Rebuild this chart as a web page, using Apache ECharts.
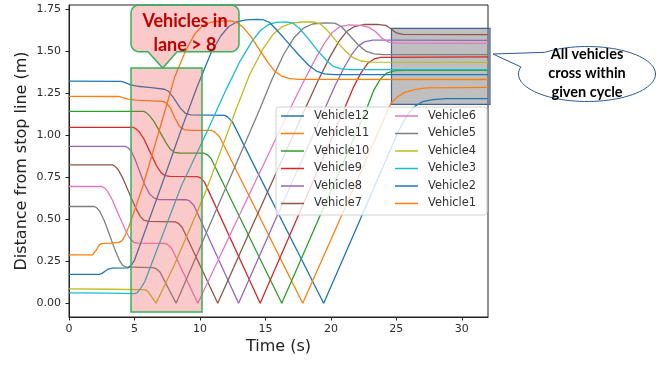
<!DOCTYPE html>
<html>
<head>
<meta charset="utf-8">
<script src="https://cdn.jsdelivr.net/npm/echarts@6/dist/echarts.min.js"></script>
<style>
  html, body { margin: 0; padding: 0; background: #fff; }
  #chart { width: 665px; height: 365px; }
</style>
</head>
<body>
<div id="chart"></div>
<script>
// tick labels
const xTicks = [0, 5, 10, 15, 20, 25, 30];
const yTicks = [0, 0.25, 0.5, 0.75, 1.0, 1.25, 1.5, 1.75];

// legend / series names (plot order: 12 first, 1 last)
const vehicleNames = ['Vehicle12', 'Vehicle11', 'Vehicle10', 'Vehicle9', 'Vehicle8', 'Vehicle7',
  'Vehicle6', 'Vehicle5', 'Vehicle4', 'Vehicle3', 'Vehicle2', 'Vehicle1'];
const vehicleColors = ['#1f77b4', '#ff7f0e', '#2ca02c', '#d62728', '#9467bd', '#8c564b',
  '#e377c2', '#7f7f7f', '#bcbd22', '#17becf', '#1f77b4', '#ff7f0e'];

// [time (s), distance (m)]
const vehicle1 = [[0, 0.287], [1.8, 0.287], [1.95, 0.293], [2.1, 0.318], [2.3, 0.345], [2.5, 0.354], [3.2, 0.357],
  [3.8, 0.362], [4.05, 0.372], [4.3, 0.405], [4.6, 0.46], [5.63, 0.694], [6.9, 1.03], [8.1, 1.35], [8.9, 1.5],
  [9.6, 1.6], [10.2, 1.65], [10.9, 1.672], [11.8, 1.678], [12.5, 1.677], [12.9, 1.665], [13.3, 1.64], [13.9, 1.585],
  [14.6, 1.5], [15.2, 1.43], [15.7, 1.38], [16.2, 1.352], [16.8, 1.337], [17.5, 1.331], [32, 1.33]];
const vehicle2 = [[0, 0.172], [2.3, 0.172], [2.5, 0.176], [2.75, 0.19], [3.0, 0.203], [3.3, 0.208], [4.5, 0.21],
  [4.75, 0.225], [5.0, 0.255], [7.04, 0.694], [8.56, 1.03], [9.8, 1.29], [10.86, 1.49], [11.6, 1.59], [12.2, 1.645],
  [12.8, 1.672], [13.5, 1.685], [14.4, 1.688], [14.9, 1.684], [15.3, 1.67], [15.8, 1.63], [16.6, 1.56], [17.5, 1.48],
  [18.3, 1.415], [18.9, 1.38], [19.5, 1.364], [20.3, 1.359], [32, 1.359]];
const vehicle3 = [[0, 0.062], [3, 0.06], [5.0, 0.057], [5.2, 0.062], [5.45, 0.085], [5.8, 0.13], [8.56, 0.694],
  [10.6, 1.03], [12.0, 1.27], [13.0, 1.43], [14.0, 1.56], [14.6, 1.62], [15.2, 1.655], [15.8, 1.67], [16.6, 1.673],
  [17.1, 1.665], [17.6, 1.635], [18.3, 1.57], [19.0, 1.5], [19.7, 1.44], [20.2, 1.408], [20.8, 1.393], [21.5, 1.389],
  [32, 1.389]];
const vehicle4 = [[0, 0.085], [3, 0.083], [5.6, 0.081], [5.85, 0.079], [6.05, 0.068], [6.65, 0.0], [8.0, 0.22],
  [10.35, 0.645], [12.75, 1.15], [13.8, 1.36], [14.8, 1.51], [15.6, 1.6], [16.3, 1.645], [17.0, 1.665], [17.8, 1.672],
  [18.7, 1.672], [19.2, 1.66], [19.7, 1.625], [20.4, 1.56], [21.1, 1.5], [21.7, 1.46], [22.3, 1.44], [23.0, 1.433],
  [32, 1.432]];
const vehicle5 = [[0, 0.575], [1.9, 0.575], [2.1, 0.568], [2.35, 0.545], [2.7, 0.49], [3.5, 0.32], [3.85, 0.255],
  [4.1, 0.225], [4.4, 0.214], [5.5, 0.213], [6.4, 0.212], [6.65, 0.205], [6.95, 0.185], [8.18, 0.0], [10.5, 0.42],
  [14.55, 1.15], [15.5, 1.33], [16.4, 1.48], [17.2, 1.58], [17.9, 1.635], [18.6, 1.66], [19.5, 1.667], [20.3, 1.665],
  [20.8, 1.645], [21.4, 1.595], [22.1, 1.535], [22.7, 1.497], [23.3, 1.482], [24, 1.478], [32, 1.478]];
const vehicle6 = [[0, 0.694], [2.5, 0.694], [2.7, 0.686], [2.95, 0.665], [3.3, 0.615], [4.3, 0.435], [4.65, 0.385],
  [4.95, 0.362], [5.3, 0.357], [7.3, 0.356], [7.55, 0.348], [7.85, 0.325], [9.84, 0.0], [12.5, 0.44], [16.85, 1.15],
  [17.8, 1.3], [18.8, 1.45], [19.5, 1.545], [20.1, 1.61], [20.7, 1.645], [21.4, 1.655], [22.3, 1.652], [22.9, 1.64],
  [23.4, 1.615], [23.9, 1.575], [24.4, 1.552], [25, 1.546], [32, 1.545]];
const vehicle7 = [[0, 0.823], [3.3, 0.823], [3.5, 0.815], [3.75, 0.795], [4.1, 0.745], [5.1, 0.565], [5.45, 0.515],
  [5.75, 0.492], [6.1, 0.486], [8.1, 0.484], [8.35, 0.475], [8.65, 0.45], [11.36, 0.0], [14, 0.46], [18.0, 1.15],
  [19.0, 1.32], [19.9, 1.46], [20.6, 1.555], [21.2, 1.615], [21.8, 1.645], [22.5, 1.657], [23.5, 1.658],
  [24.2, 1.652], [24.6, 1.63], [25.0, 1.607], [25.5, 1.598], [32, 1.597]];
const vehicle8 = [[0, 0.932], [4.3, 0.932], [4.5, 0.924], [4.75, 0.905], [5.05, 0.855], [5.75, 0.71], [6.15, 0.65],
  [6.5, 0.625], [6.9, 0.616], [9.0, 0.615], [9.25, 0.605], [9.55, 0.58], [12.95, 0.0], [15.5, 0.45], [19.5, 1.15],
  [20.3, 1.29], [21.0, 1.4], [21.6, 1.48], [22.1, 1.53], [22.6, 1.555], [23.2, 1.564], [24, 1.564], [32, 1.563]];
const vehicle9 = [[0, 1.045], [4.9, 1.045], [5.1, 1.038], [5.35, 1.02], [5.7, 0.98], [6.7, 0.815], [7.05, 0.775],
  [7.35, 0.758], [7.7, 0.754], [9.8, 0.753], [10.05, 0.745], [10.35, 0.72], [14.6, 0.0], [17, 0.43], [21.0, 1.15],
  [21.7, 1.28], [22.3, 1.37], [22.8, 1.425], [23.3, 1.452], [23.8, 1.462], [32, 1.464]];
const vehicle10 = [[0, 1.14], [5.7, 1.14], [5.9, 1.133], [6.15, 1.115], [6.5, 1.08], [7.4, 0.955], [7.75, 0.915],
  [8.05, 0.897], [8.4, 0.893], [10.3, 0.892], [10.55, 0.884], [10.85, 0.86], [16.25, 0.0], [18.5, 0.4], [22.7, 1.15],
  [23.3, 1.27], [23.8, 1.335], [24.3, 1.37], [24.9, 1.383], [25.6, 1.385], [32, 1.385]];
const vehicle11 = [[0, 1.23], [3.8, 1.229], [4.1, 1.222], [4.5, 1.213], [5.1, 1.208], [7.2, 1.2], [7.45, 1.19],
  [7.75, 1.16], [8.1, 1.1], [8.45, 1.05], [8.8, 1.032], [9.3, 1.028], [10.9, 1.027], [11.15, 1.017], [11.5, 0.99],
  [17.85, 0.0], [20.5, 0.465], [24.6, 1.19], [25.1, 1.228], [25.7, 1.255], [26.4, 1.27], [27.3, 1.28], [32, 1.283]];
const vehicle12 = [[0, 1.32], [4.0, 1.319], [4.3, 1.312], [4.7, 1.298], [5.2, 1.29], [6.3, 1.282], [7.3, 1.272],
  [7.6, 1.26], [7.95, 1.225], [8.5, 1.16], [8.9, 1.128], [9.3, 1.12], [11.9, 1.117], [12.15, 1.105], [12.5, 1.075],
  [14.16, 0.815], [19.45, 0.0], [22, 0.455], [25.2, 1.03], [25.8, 1.115], [26.4, 1.17], [27.0, 1.198], [27.8, 1.211],
  [28.8, 1.216], [32, 1.216]];

const vehicleData = [vehicle12, vehicle11, vehicle10, vehicle9, vehicle8, vehicle7,
  vehicle6, vehicle5, vehicle4, vehicle3, vehicle2, vehicle1];

// callout outlines (decoration only)
function roundedCallout(x0, y0, x1, y1, r, notchLeft, tip, notchRight) {
  const pts = [];
  const arc = (cx, cy, a0, a1) => {
    for (let i = 0; i <= 6; i++) {
      const a = a0 + (a1 - a0) * i / 6;
      pts.push([cx + r * Math.cos(a), cy + r * Math.sin(a)]);
    }
  };
  arc(x0 + r, y0 + r, Math.PI, 1.5 * Math.PI);
  arc(x1 - r, y0 + r, 1.5 * Math.PI, 2 * Math.PI);
  arc(x1 - r, y1 - r, 0, 0.5 * Math.PI);
  pts.push([notchRight, y1], tip, [notchLeft, y1]);
  arc(x0 + r, y1 - r, 0.5 * Math.PI, Math.PI);
  return pts;
}

function ellipseCallout(cx, cy, rx, ry, deg0, deg1, tip) {
  const pts = [];
  for (let d = deg0; d < deg1; d += 4) {
    const a = d * Math.PI / 180;
    pts.push([cx + rx * Math.cos(a), cy + ry * Math.sin(a)]);
  }
  const a = deg1 * Math.PI / 180;
  pts.push([cx + rx * Math.cos(a), cy + ry * Math.sin(a)]);
  pts.push(tip);
  return pts;
}

const chart = echarts.init(document.getElementById('chart'), null, { renderer: 'canvas' });

const tickFont = { fontFamily: 'DejaVu Sans', fontSize: 11, color: '#2b2b2b' };
const legendText = { fontFamily: 'DejaVu Sans', fontSize: 11.4, color: '#333', lineHeight: 14, padding: [0, 0, 0, 5] };

const legendBase = {
  orient: 'vertical', icon: 'rect', itemWidth: 23, itemHeight: 1.5, itemGap: 3.5,
  padding: 0, top: 109, selectedMode: false, textStyle: legendText
};

const option = {
  animation: false,
  grid: { left: 69, right: 177, top: 5, bottom: 48, show: true, borderColor: '#222', borderWidth: 1 },
  xAxis: {
    type: 'value', min: 0, max: 32,
    axisLine: { show: true, onZero: false, lineStyle: { color: '#222', width: 1 } },
    axisTick: { show: true, length: 3.5, lineStyle: { color: '#222' }, customValues: xTicks },
    axisLabel: Object.assign({ customValues: xTicks, margin: 7 }, tickFont),
    splitLine: { show: false }
  },
  yAxis: {
    type: 'value', min: -0.082, max: 1.773,
    axisLine: { show: true, onZero: false, lineStyle: { color: '#222', width: 1 } },
    axisTick: { show: true, length: 3.5, lineStyle: { color: '#222' }, customValues: yTicks },
    axisLabel: Object.assign({ customValues: yTicks, margin: 8, formatter: v => v.toFixed(2) }, tickFont),
    splitLine: { show: false }
  },
  legend: [
    Object.assign({ data: vehicleNames.slice(0, 6), left: 281 }, legendBase),
    Object.assign({ data: vehicleNames.slice(6), left: 395 }, legendBase)
  ],
  series: vehicleNames.map((name, i) => ({
    name: name,
    type: 'line',
    data: vehicleData[i],
    color: vehicleColors[i],
    showSymbol: false,
    symbol: 'none',
    smooth: false,
    lineStyle: { width: 1.3, color: vehicleColors[i] },
    emphasis: { disabled: true },
    z: 2
  })),
  graphic: [
    // legend frame
    {
      type: 'rect', z: 3, silent: true,
      shape: { x: 276, y: 107, width: 211, height: 108, r: 3 },
      style: { fill: 'rgba(255,255,255,0.8)', stroke: '#d0d0d0', lineWidth: 1 }
    },
    // end-of-cycle region (under the lines)
    {
      type: 'rect', z: 1, silent: true,
      shape: { x: 391.5, y: 28.3, width: 98.5, height: 76 },
      style: { fill: 'rgba(128,128,128,0.5)', stroke: '#41619a', lineWidth: 1.2 }
    },
    // highlighted region
    {
      type: 'rect', z: 10, silent: true,
      shape: { x: 131, y: 68, width: 71, height: 244 },
      style: { fill: 'rgba(240,80,80,0.3)', stroke: '#33b35a', lineWidth: 1.5 }
    },
    {
      type: 'polygon', z: 10, silent: true,
      shape: { points: roundedCallout(131, 5, 239, 51.7, 8, 148, [162.7, 68], 177) },
      style: { fill: 'rgba(240,80,80,0.3)', stroke: '#33b35a', lineWidth: 1.5 }
    },
    {
      type: 'text', z: 11, silent: true, x: 185, y: 33,
      style: {
        text: 'Vehicles in\nlane > 8', font: 'bold 18px Lato', lineHeight: 23.5,
        fill: '#c00000', align: 'center', verticalAlign: 'middle',
        textAlign: 'center', textVerticalAlign: 'middle'
      }
    },
    {
      type: 'polygon', z: 10, silent: true,
      shape: { points: ellipseCallout(587, 74, 68.5, 27.5, 232, 555, [493, 54]) },
      style: { fill: '#ffffff', stroke: '#2f5597', lineWidth: 1 }
    },
    {
      type: 'text', z: 11, silent: true, x: 587, y: 73.5,
      style: {
        text: 'All vehicles\ncross within\ngiven cycle', font: 'bold 14.5px Lato', lineHeight: 19.3,
        fill: '#000', align: 'center', verticalAlign: 'middle',
        textAlign: 'center', textVerticalAlign: 'middle'
      }
    },
    // axis titles
    {
      type: 'text', z: 5, silent: true, x: 278.5, y: 347,
      style: {
        text: 'Time (s)', font: '16px DejaVu Sans', fill: '#222',
        align: 'center', verticalAlign: 'middle', textAlign: 'center', textVerticalAlign: 'middle'
      }
    },
    {
      type: 'text', z: 5, silent: true, x: 21.5, y: 161, rotation: Math.PI / 2,
      style: {
        text: 'Distance from stop line (m)', font: '16px DejaVu Sans', fill: '#222',
        align: 'center', verticalAlign: 'middle', textAlign: 'center', textVerticalAlign: 'middle'
      }
    }
  ]
};

chart.setOption(option);
</script>
</body>
</html>
